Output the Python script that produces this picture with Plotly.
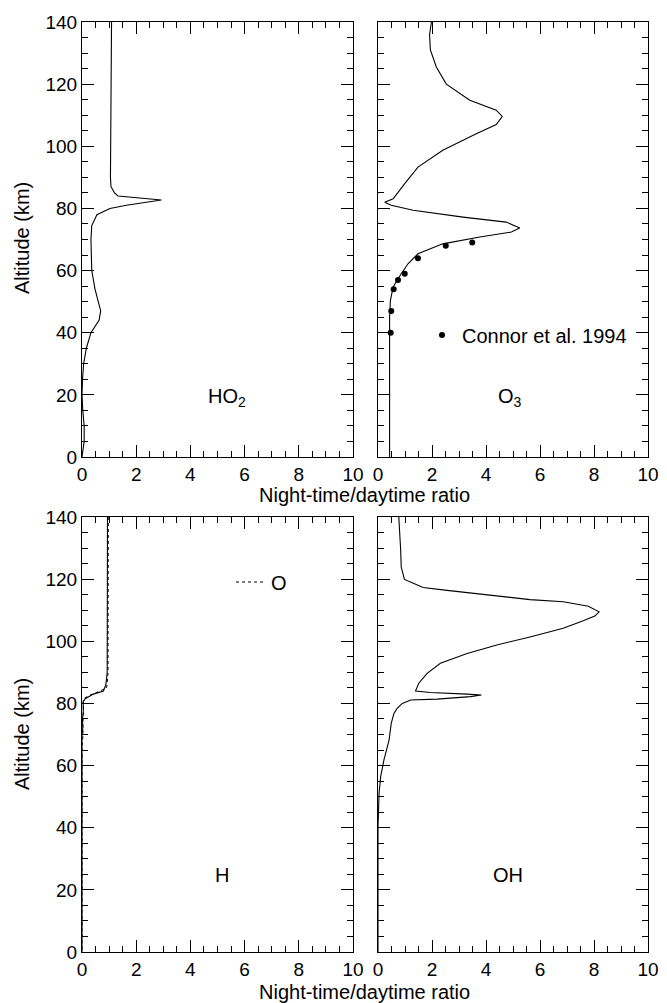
import plotly.graph_objects as go

# ---- data ----
HO2_ALT = [140, 120, 100, 90, 87, 85, 84, 82.7, 81, 80, 78, 74.5, 70, 60, 54, 50, 47,
           44, 42, 40, 35, 30, 25, 20, 15, 10, 5, 2, 0]
HO2_RATIO = [1.09, 1.07, 1.05, 1.05, 1.07, 1.2, 1.33, 2.93, 1.64, 1.03, 0.55, 0.36, 0.33,
             0.36, 0.48, 0.6, 0.69, 0.63, 0.48, 0.33, 0.16, 0.06, 0.02, 0.0, 0.03, 0.08,
             0.08, 0.03, 0.0]

O3_ALT = [140, 136, 131, 125.5, 120, 114.8, 111.6, 109.6, 107, 104, 98.7, 93.3, 88, 85.3,
          83.1, 82, 81, 79.4, 77.2, 75.6, 73.7, 72.4, 70.8, 68.6, 65.4, 62.2, 59, 54.7,
          50.4, 45, 40, 20, 0]
O3_RATIO = [1.98, 1.91, 1.94, 2.16, 2.53, 3.4, 4.38, 4.6, 4.38, 3.64, 2.4, 1.48, 0.99,
            0.74, 0.56, 0.25, 0.49, 1.3, 3.15, 4.75, 5.25, 4.94, 3.77, 2.4, 1.48, 1.11,
            0.86, 0.56, 0.46, 0.43, 0.43, 0.43, 0.43]

CONNOR_ALT = [40, 47, 54, 57, 59, 64, 68, 69]
CONNOR_RATIO = [0.47, 0.49, 0.58, 0.74, 0.99, 1.48, 2.51, 3.49]

H_ALT = [140, 120, 100, 90, 86, 84, 83, 81.5, 80.5, 78, 75, 72, 70, 60, 40, 20, 0]
H_RATIO = [0.94, 0.94, 0.94, 0.93, 0.88, 0.79, 0.42, 0.12, 0.04, 0.05, 0.02, 0.03, 0.0,
           0.0, 0.0, 0.0, 0.0]

O_ALT = [140, 120, 100, 90, 86, 85, 84, 82.5, 81.5, 80, 77, 74, 70, 66, 60, 40, 20, 0]
O_RATIO = [0.97, 0.97, 0.97, 0.96, 0.93, 0.9, 0.67, 0.24, 0.06, 0.04, 0.06, 0.03, 0.04,
           0.0, 0.0, 0.0, 0.0, 0.0]

OH_ALT = [140, 134.6, 129.3, 123.9, 119.9, 118.6, 117.3, 116.4, 115, 113.4, 112.7, 111.3,
          109.5, 108.1, 106.6, 104.2, 101.4, 98.8, 96.1, 92.9, 89.7, 86.5, 84, 83.5, 83,
          82.7, 82.2, 81.4, 81.1, 80, 78.4, 76.8, 73.6, 68.2, 61.8, 56.5, 51.1, 44.7, 40,
          20, 0]
OH_RATIO = [0.77, 0.81, 0.84, 0.86, 0.98, 1.33, 1.67, 2.56, 3.91, 5.63, 6.86, 7.79, 8.19,
            8.03, 7.6, 6.86, 5.63, 4.4, 3.3, 2.31, 1.82, 1.51, 1.39, 1.94, 3.3, 3.83, 3.42,
            2.19, 1.21, 0.9, 0.71, 0.59, 0.49, 0.41, 0.22, 0.1, 0.04, 0.01, 0.0, 0.0, 0.0]

# page has an 8px body margin, so the figure is sized to fill the rest of the window
PAGE_OFF = 8
W, H = 667 - PAGE_OFF, 1003 - PAGE_OFF
FONT = "Liberation Sans, Arial, Helvetica, sans-serif"
LINE = dict(color="black", width=1.1)

# panel boxes in window pixels: (x0, x1, y_top, y_bottom)
PANELS = {
    1: (82, 353, 22, 457),
    2: (378, 648, 22, 457),
    3: (82, 353, 517, 952),
    4: (378, 648, 517, 952),
}


def px_x(v):
    return (v - PAGE_OFF) / W


def px_y(v):
    return 1 - (v - PAGE_OFF) / H


fig = go.Figure()

fig.add_trace(go.Scatter(x=HO2_RATIO, y=HO2_ALT, mode="lines", line=LINE,
                         xaxis="x", yaxis="y", showlegend=False))
fig.add_trace(go.Scatter(x=O3_RATIO, y=O3_ALT, mode="lines", line=LINE,
                         xaxis="x2", yaxis="y2", showlegend=False))
fig.add_trace(go.Scatter(x=CONNOR_RATIO, y=CONNOR_ALT, mode="markers",
                         marker=dict(color="black", size=6),
                         name="Connor et al. 1994", legend="legend",
                         xaxis="x2", yaxis="y2"))
fig.add_trace(go.Scatter(x=H_RATIO, y=H_ALT, mode="lines", line=LINE,
                         xaxis="x3", yaxis="y3", showlegend=False))
fig.add_trace(go.Scatter(x=O_RATIO, y=O_ALT, mode="lines",
                         line=dict(color="black", width=1, dash="dot"),
                         name="O", legend="legend2", xaxis="x3", yaxis="y3"))
fig.add_trace(go.Scatter(x=OH_RATIO, y=OH_ALT, mode="lines", line=LINE,
                         xaxis="x4", yaxis="y4", showlegend=False))

tickfont = dict(family=FONT, size=19, color="black")


def xaxis(i):
    x0, x1, _, _ = PANELS[i]
    return dict(
        domain=[px_x(x0), px_x(x1)], range=[0, 10], anchor="y" if i == 1 else f"y{i}",
        tickmode="linear", tick0=0, dtick=2, ticks="inside", ticklen=12, tickwidth=1,
        tickcolor="black", showline=True, linecolor="black", linewidth=1,
        mirror="allticks", showgrid=False, zeroline=False, tickfont=tickfont,
        automargin=False,
        minor=dict(dtick=0.5, ticks="inside", ticklen=6, tickcolor="black",
                   showgrid=False),
        fixedrange=True,
    )


def yaxis(i):
    _, _, yt, yb = PANELS[i]
    return dict(
        domain=[px_y(yb), px_y(yt)], range=[0, 140], anchor="x" if i == 1 else f"x{i}",
        tickmode="linear", tick0=0, dtick=20, ticks="inside", ticklen=12, tickwidth=1,
        tickcolor="black", showline=True, linecolor="black", linewidth=1,
        mirror="allticks", showgrid=False, zeroline=False, tickfont=tickfont,
        showticklabels=i in (1, 3), automargin=False,
        minor=dict(dtick=5, ticks="inside", ticklen=6, tickcolor="black",
                   showgrid=False),
        fixedrange=True,
    )


layout_axes = {}
for i in range(1, 5):
    sfx = "" if i == 1 else str(i)
    layout_axes[f"xaxis{sfx}"] = xaxis(i)
    layout_axes[f"yaxis{sfx}"] = yaxis(i)

annotations = []


def label(text, x, y, size=20, angle=0):
    annotations.append(dict(text=text, x=px_x(x), y=px_y(y), xref="paper", yref="paper",
                            xanchor="center", yanchor="middle",
                            showarrow=False, textangle=angle,
                            font=dict(family=FONT, size=size, color="black")))


label("Night-time/daytime ratio", 365, 495)
label("Night-time/daytime ratio", 365, 992)
label("Altitude (km)", 22, 238, angle=-90)
label("Altitude (km)", 22, 734, angle=-90)
label("HO<sub>2</sub>", 227, 398)
label("O<sub>3</sub>", 510, 398)
label("H", 222, 875)
label("OH", 508, 875)

fig.update_layout(
    width=W, height=H,
    margin=dict(l=0, r=0, t=0, b=0, pad=0, autoexpand=False),
    paper_bgcolor="white", plot_bgcolor="white",
    font=dict(family=FONT, color="black"),
    annotations=annotations,
    legend=dict(x=px_x(422), y=px_y(335), xanchor="left", yanchor="middle",
                bgcolor="rgba(0,0,0,0)", font=dict(family=FONT, size=20, color="black"),
                itemwidth=30, borderwidth=0),
    legend2=dict(x=px_x(231), y=px_y(582), xanchor="left", yanchor="middle",
                 bgcolor="rgba(0,0,0,0)", font=dict(family=FONT, size=20, color="black"),
                 itemwidth=30, borderwidth=0),
    **layout_axes,
)

fig.write_html("out.html")
